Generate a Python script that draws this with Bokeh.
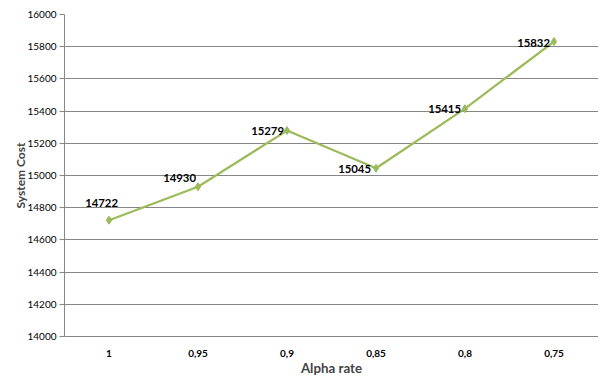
from bokeh.plotting import figure
from bokeh.models import ColumnDataSource, FixedTicker, Range1d
from bokeh.embed import file_html
from bokeh.resources import INLINE
from bokeh.core.properties import value

categories = ["1", "0,95", "0,9", "0,85", "0,8", "0,75"]
system_cost = [14722, 14930, 15279, 15045, 15415, 15832]
y_ticks = list(range(14000, 16001, 200))

# label placement (style only, screen pixels)
label_dx = [9, -2, -3, -5, -4, -4]
label_dy = [-17, -9, 0, 1, 0, 1]

src = ColumnDataSource(dict(
    x=categories, y=system_cost, t=[str(v) for v in system_cost],
    dx=label_dx, dy=label_dy,
))

p = figure(width=598, height=378, x_range=categories, y_range=Range1d(14000, 16000),
           output_backend="svg", toolbar_location=None,
           min_border_left=64, min_border_right=0, min_border_top=14, min_border_bottom=40)
p.outline_line_color = None
p.background_fill_color = "white"
p.border_fill_color = "white"

grid_color = "#868686"
p.xgrid.grid_line_color = None
p.ygrid.grid_line_color = grid_color
p.ygrid.grid_line_width = 1

p.yaxis.ticker = FixedTicker(ticks=y_ticks)
p.yaxis.axis_line_color = grid_color
p.yaxis.major_tick_line_color = grid_color
p.yaxis.major_tick_out = 5
p.yaxis.major_tick_in = 0
p.yaxis.minor_tick_line_color = None
p.yaxis.major_label_text_font = "Lato"
p.yaxis.major_label_text_font_size = "7.5pt"
p.yaxis.major_label_text_color = "black"
p.yaxis.major_label_standoff = 3
p.yaxis.axis_label = "System Cost"
p.yaxis.axis_label_text_font = "Lato"
p.yaxis.axis_label_text_font_style = "bold"
p.yaxis.axis_label_text_font_size = "9pt"
p.yaxis.axis_label_standoff = -4

p.xaxis.axis_line_color = grid_color
p.xaxis.major_tick_line_color = None
p.xaxis.minor_tick_line_color = None
p.xaxis.major_label_text_font = "Lato"
p.xaxis.major_label_text_font_size = "7.5pt"
p.xaxis.major_label_text_font_style = "bold"
p.xaxis.major_label_text_color = "black"
p.xaxis.major_label_standoff = 7
p.xaxis.axis_label = "Alpha rate"
p.xaxis.axis_label_text_font = "Lato"
p.xaxis.axis_label_text_font_style = "bold"
p.xaxis.axis_label_text_font_size = "10pt"
p.xaxis.axis_label_standoff = 0

green = "#9BBB59"
p.line("x", "y", source=src, line_color=green, line_width=2.2)
p.scatter("x", "y", source=src, marker="diamond", size=8, fill_color=green, line_color=green)
p.text("x", "y", text="t", source=src, x_offset="dx", y_offset="dy",
       text_align="right", text_baseline="middle",
       text_font=value("Lato"), text_font_style="bold", text_font_size="8.5pt",
       text_color="black")

open("out.html", "w").write(file_html(p, INLINE))
